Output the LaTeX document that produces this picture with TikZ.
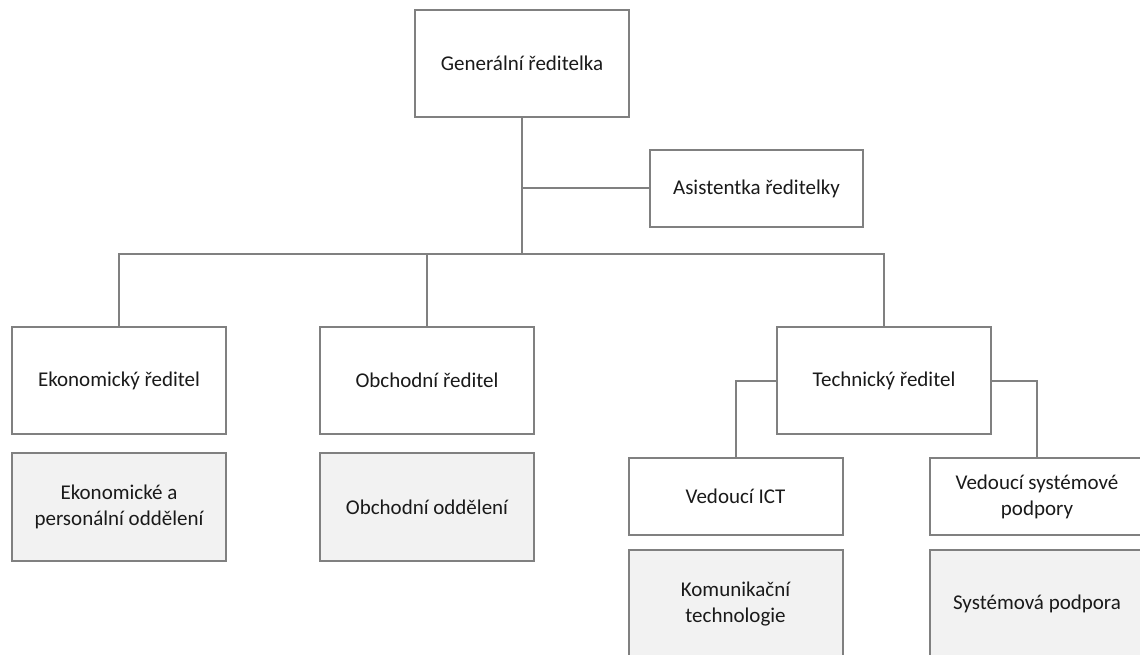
\documentclass[tikz,border=0pt]{standalone}
\usepackage{fontspec}
\setmainfont{Carlito}
\definecolor{linegray}{RGB}{128,128,128}
\definecolor{deptgray}{RGB}{242,242,242}
\definecolor{textblack}{RGB}{26,26,26}

\begin{document}
\begin{tikzpicture}[x=1pt,y=-1pt,
	box/.style={draw=linegray,line width=2pt,fill=white,inner sep=0,outer sep=0,align=center,text=textblack,font=\fontsize{21}{26}\selectfont,minimum width=214pt,minimum height=107pt},
	smallbox/.style={box,minimum height=77pt},
	deptbox/.style={box,fill=deptgray,minimum height=108pt},
	link/.style={draw=linegray,line width=2pt}]
	\clip (0,0) rectangle (1140,655);
	\node[box] (gen) at (522,63.5) {Generální ředitelka};
	\node[smallbox,minimum width=213pt] (asst) at (756.5,188.5) {Asistentka ředitelky};
	\node[box] (eko) at (119,380.5) {Ekonomický ředitel};
	\node[box] (obch) at (427,380.5) {Obchodní ředitel};
	\node[box] (tech) at (884,380.5) {Technický ředitel};
	\node[deptbox] (ekodept) at (119,507) {Ekonomické a\\personální oddělení};
	\node[deptbox] (obchdept) at (427,507) {Obchodní oddělení};
	\node[smallbox] (ict) at (735.5,496.5) {Vedoucí ICT};
	\node[smallbox] (syslead) at (1037,496.5) {Vedoucí systémové\\podpory};
	\node[deptbox] (komtech) at (735.5,604) {Komunikační\\technologie};
	\node[deptbox] (syspod) at (1037,604) {Systémová podpora};
	\coordinate (bus) at (522,254);
	\draw[link] (gen.south) -- (gen.south |- bus);
	\draw[link] (gen.south |- asst.west) -- (asst.west);
	\draw[link] (eko.north) -- (eko.north |- bus) -| (tech.north);
	\draw[link] (obch.north) -- (obch.north |- bus);
	\draw[link] (tech.west) -| (ict.north);
	\draw[link] (tech.east) -| (syslead.north);
\end{tikzpicture}
\end{document}
